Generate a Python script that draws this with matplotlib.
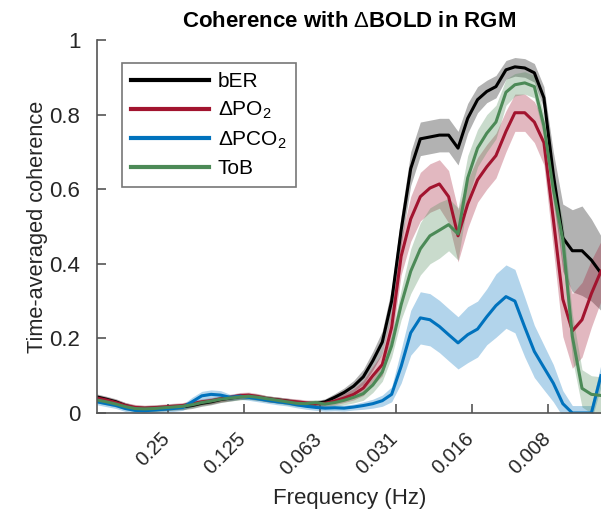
import numpy as np
import matplotlib
matplotlib.use('Agg')
import matplotlib.pyplot as plt
from matplotlib.ticker import NullLocator
from matplotlib.transforms import ScaledTranslation

plt.rcParams['font.family'] = ['Liberation Sans', 'DejaVu Sans']
plt.rcParams['mathtext.fontset'] = 'custom'
plt.rcParams['mathtext.rm'] = 'Liberation Sans'
plt.rcParams['mathtext.it'] = 'Liberation Sans:italic'

# frequency grid (Hz), 1/8 octave steps
freq = [0.478, 0.439, 0.402, 0.369, 0.338, 0.310, 0.284, 0.261, 0.239, 0.219,
        0.201, 0.184, 0.169, 0.155, 0.142, 0.130, 0.120, 0.110, 0.101, 0.0923,
        0.0846, 0.0776, 0.0711, 0.0652, 0.0598, 0.0548, 0.0503, 0.0461, 0.0422, 0.0387,
        0.0355, 0.0326, 0.0299, 0.0274, 0.0251, 0.0230, 0.0211, 0.0194, 0.0178, 0.0163,
        0.0149, 0.0137, 0.0126, 0.0115, 0.0106, 0.00969, 0.00888, 0.00814, 0.00747, 0.00685,
        0.00628, 0.00575, 0.00528, 0.00484]

ber = [0.043, 0.037, 0.030, 0.020, 0.013, 0.012, 0.013, 0.014, 0.016, 0.017,
       0.020, 0.026, 0.030, 0.036, 0.040, 0.044, 0.045, 0.042, 0.038, 0.035,
       0.032, 0.028, 0.025, 0.025, 0.030, 0.042, 0.055, 0.072, 0.097, 0.14,
       0.19, 0.30, 0.49, 0.655, 0.735, 0.74, 0.745, 0.745, 0.71, 0.79,
       0.84, 0.862, 0.875, 0.92, 0.928, 0.925, 0.912, 0.845, 0.64, 0.47,
       0.435, 0.435, 0.41, 0.375]
ber_err = [0.008, 0.008, 0.008, 0.008, 0.008, 0.008, 0.008, 0.008, 0.008, 0.008,
           0.008, 0.008, 0.008, 0.008, 0.008, 0.008, 0.008, 0.008, 0.008, 0.008,
           0.008, 0.008, 0.008, 0.008, 0.008, 0.01, 0.012, 0.015, 0.02, 0.025,
           0.03, 0.035, 0.04, 0.045, 0.045, 0.045, 0.045, 0.045, 0.045, 0.04,
           0.035, 0.03, 0.03, 0.025, 0.025, 0.025, 0.025, 0.03, 0.06, 0.09,
           0.11, 0.12, 0.11, 0.1]

po2 = [0.04, 0.035, 0.028, 0.02, 0.015, 0.013, 0.014, 0.016, 0.018, 0.02,
       0.025, 0.03, 0.033, 0.038, 0.042, 0.047, 0.048, 0.044, 0.038, 0.035,
       0.032, 0.03, 0.027, 0.025, 0.026, 0.032, 0.04, 0.05, 0.067, 0.10,
       0.13, 0.23, 0.42, 0.52, 0.58, 0.603, 0.614, 0.58, 0.475, 0.56,
       0.625, 0.66, 0.69, 0.755, 0.805, 0.805, 0.78, 0.725, 0.52, 0.305,
       0.22, 0.25, 0.32, 0.38]
po2_err = [0.008, 0.008, 0.008, 0.008, 0.008, 0.008, 0.008, 0.008, 0.008, 0.008,
           0.008, 0.008, 0.008, 0.008, 0.008, 0.008, 0.008, 0.008, 0.008, 0.008,
           0.008, 0.008, 0.008, 0.008, 0.008, 0.01, 0.012, 0.015, 0.02, 0.025,
           0.03, 0.04, 0.05, 0.06, 0.065, 0.065, 0.065, 0.07, 0.07, 0.065,
           0.06, 0.06, 0.06, 0.055, 0.05, 0.05, 0.055, 0.06, 0.08, 0.1,
           0.1, 0.1, 0.09, 0.08]

pco2 = [0.03, 0.025, 0.02, 0.012, 0.007, 0.006, 0.008, 0.01, 0.012, 0.015,
        0.03, 0.046, 0.05, 0.048, 0.042, 0.045, 0.042, 0.038, 0.034, 0.03,
        0.027, 0.022, 0.018, 0.015, 0.013, 0.014, 0.013, 0.016, 0.02, 0.025,
        0.033, 0.05, 0.125, 0.215, 0.255, 0.25, 0.232, 0.21, 0.188, 0.21,
        0.225, 0.258, 0.288, 0.312, 0.30, 0.23, 0.165, 0.122, 0.08, 0.025,
        0.0, 0.0, 0.0, 0.1]
pco2_err = [0.008, 0.008, 0.008, 0.008, 0.008, 0.008, 0.008, 0.008, 0.008, 0.008,
            0.012, 0.012, 0.012, 0.012, 0.008, 0.008, 0.008, 0.008, 0.008, 0.008,
            0.008, 0.008, 0.008, 0.008, 0.008, 0.008, 0.008, 0.008, 0.01, 0.012,
            0.015, 0.02, 0.045, 0.06, 0.07, 0.07, 0.07, 0.07, 0.07, 0.075,
            0.075, 0.075, 0.085, 0.085, 0.085, 0.08, 0.07, 0.06, 0.05, 0.035,
            0.02, 0.02, 0.02, 0.03]

tob = [0.035, 0.03, 0.024, 0.017, 0.012, 0.011, 0.012, 0.014, 0.016, 0.018,
       0.022, 0.028, 0.032, 0.037, 0.04, 0.043, 0.045, 0.042, 0.038, 0.034,
       0.03, 0.026, 0.025, 0.028, 0.024, 0.028, 0.034, 0.042, 0.052, 0.075,
       0.11, 0.18, 0.29, 0.38, 0.44, 0.475, 0.49, 0.505, 0.48, 0.63,
       0.71, 0.75, 0.78, 0.86, 0.88, 0.885, 0.875, 0.77, 0.60, 0.465,
       0.205, 0.066, 0.05, 0.047]
tob_err = [0.008, 0.008, 0.008, 0.008, 0.008, 0.008, 0.008, 0.008, 0.008, 0.008,
           0.008, 0.008, 0.008, 0.008, 0.008, 0.008, 0.008, 0.008, 0.008, 0.008,
           0.008, 0.008, 0.008, 0.008, 0.008, 0.01, 0.012, 0.015, 0.018, 0.02,
           0.025, 0.03, 0.04, 0.06, 0.07, 0.075, 0.075, 0.07, 0.07, 0.06,
           0.05, 0.05, 0.045, 0.035, 0.03, 0.03, 0.03, 0.03, 0.04, 0.05,
           0.06, 0.05, 0.05, 0.05]

xticks = [0.25, 0.125, 0.0625, 0.03125, 0.015625, 0.0078125]
xticklabels = ['0.25', '0.125', '0.063', '0.031', '0.016', '0.008']

series = [
    ('bER', ber, ber_err, '#000000'),
    ('$\\Delta$PO$_2$', po2, po2_err, '#A2142F'),
    ('$\\Delta$PCO$_2$', pco2, pco2_err, '#0072BD'),
    ('ToB', tob, tob_err, '#4C8A57'),
]

fig = plt.figure(figsize=(6.01, 5.14), dpi=100)
ax = fig.add_axes([0.1614, 0.1965, 0.840, 0.7257])

f = np.array(freq)
for name, y, e, c in series:
    y = np.array(y)
    e = np.array(e)
    ax.fill_between(f, y - e, y + e, color=c, alpha=0.3, linewidth=0)
    ax.plot(f, y, color=c, linewidth=2.2, label=name)

ax.set_xscale('log', base=2)
ax.set_xlim(0.478, 0.0048)
ax.set_ylim(0, 1)
ax.set_xticks(xticks)
ax.set_xticklabels(xticklabels, rotation=45, ha='right', va='center',
                   rotation_mode='anchor')
ax.xaxis.set_minor_locator(NullLocator())
ax.set_yticks([0, 0.2, 0.4, 0.6, 0.8, 1])
ax.set_yticklabels(['0', '0.2', '0.4', '0.6', '0.8', '1'])

axcol = '#262626'
for s in ['top', 'right']:
    ax.spines[s].set_visible(False)
for s in ['left', 'bottom']:
    ax.spines[s].set_color('#555555')
    ax.spines[s].set_linewidth(1.2)
ax.tick_params(direction='in', length=6.5, width=1.2, color='#555555',
               labelcolor=axcol)
ax.tick_params(axis='y', labelsize=16, pad=12)
ax.tick_params(axis='x', labelsize=14.5, pad=0)
shift = ScaledTranslation(-0.01, -0.23, fig.dpi_scale_trans)
for lab in ax.get_xticklabels():
    lab.set_transform(lab.get_transform() + shift)

ax.set_xlabel('Frequency (Hz)', fontsize=16, color=axcol)
ax.xaxis.set_label_coords(0.5, -0.201)
ax.set_ylabel('Time-averaged coherence', fontsize=15.7, color=axcol)
ax.yaxis.set_label_coords(-0.097, 0.5)
ax.set_title('Coherence with $\\Delta$BOLD in RGM', fontsize=16, fontweight='bold', pad=9)

leg = ax.legend(loc='upper left', bbox_to_anchor=(0.0495, 0.938), fontsize=15,
                handlelength=3.75, handletextpad=0.4, frameon=True, fancybox=False,
                borderpad=0.45, labelspacing=0.4, borderaxespad=0)
leg.get_frame().set_edgecolor('#555555')
leg.get_frame().set_linewidth(1.2)
for line in leg.get_lines():
    line.set_linewidth(3)

fig.savefig('out.png', dpi=100)
